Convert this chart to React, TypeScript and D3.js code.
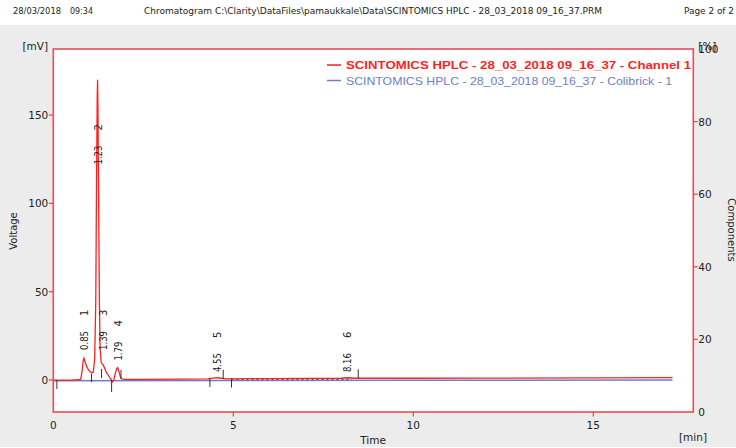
import React from "react";
import * as d3 from "d3";

const headerDate = "28/03/2018";
const headerTime = "09:34";
const headerTitle = "Chromatogram C:\\Clarity\\DataFiles\\pamaukkale\\Data\\SCINTOMICS HPLC - 28_03_2018 09_16_37.PRM";
const headerPage = "Page 2 of 2";
const legendRed = "SCINTOMICS HPLC - 28_03_2018 09_16_37 -  Channel 1";
const legendBlue = "SCINTOMICS HPLC - 28_03_2018 09_16_37 - Colibrick - 1";

const leftTicks = [0, 50, 100, 150];
const rightTicks = [0, 20, 40, 60, 80, 100];
const xTicks = [0, 5, 10, 15];

const redTimes = [0, 0.1, 0.5, 0.76, 0.8, 0.83, 0.85, 0.88, 0.92, 0.97, 1.02, 1.07, 1.11, 1.15, 1.18, 1.2, 1.22, 1.23, 1.24, 1.26, 1.28, 1.3, 1.33, 1.36, 1.39, 1.42, 1.46, 1.5, 1.55, 1.6, 1.64, 1.68, 1.72, 1.76, 1.79, 1.82, 1.86, 1.9, 2.0, 2.5, 3.5, 4.3, 4.55, 4.8, 6, 8.0, 8.16, 8.4, 10, 12, 15, 17.2];
const redValues = [0, 0, 0, 0.3, 5, 11, 12.4, 10.5, 8, 6, 4.8, 4, 4.5, 12, 45, 110, 160, 170, 155, 100, 45, 18, 10, 9, 8.5, 7, 5, 3.5, 2, 0.5, -1, 0, 3.5, 6.5, 7, 5, 2, 0.6, 0.4, 0.4, 0.5, 0.6, 1.3, 0.7, 0.8, 1.0, 1.3, 1.0, 1.0, 1.1, 1.2, 1.4];
const blueTimes = [0, 5, 10, 17.2];
const blueValues = [0, 0.2, 0.3, 0.4];

const peakTimes = [0.85, 1.23, 1.39, 1.79, 4.55, 8.16];
const peakNames = ["1", "2", "3", "4", "5", "6"];
const peakLabelLevels = [17, 122, 17, 11, 4.5, 4.5];

const boundaryTimes = [0.1, 1.06, 1.34, 1.62, 1.88, 4.35, 4.72, 4.95, 8.47];
const boundaryKinds = ["down", "mid", "up", "longdown", "up", "down", "up", "down", "up"];
const baselineSegments = [[0.1, 1.9, 0], [4.95, 8.3, 0.6]];

const FRAME = "#ee4a55";
const RED = "#ff1f1f";
const BLUE = "#6c7fc4";
const TXT = "#222";

export default function App() {
  const L = 53.3, R = 693.3, T = 49, B = 412;
  const x = d3.scaleLinear().domain([0, (R - L) / 36]).range([L, R]);
  const y = d3.scaleLinear().domain([-18.1, 187.4]).range([B, T]);
  const yr = d3.scaleLinear().domain([0, 100]).range([B, T]);

  const redLine = d3.line<number>().x((_, i) => x(redTimes[i])).y((d) => y(d));
  const blueLine = d3.line<number>().x((_, i) => x(blueTimes[i])).y((d) => y(d));

  const axisFont = "'DejaVu Sans', Verdana, sans-serif";

  return (
    <svg width={736} height={448} style={{ position: "absolute", left: 0, top: 0 }} fontFamily={axisFont}>
      <rect x={0} y={0} width={736} height={448} fill="#fff" />
      <rect x={0} y={25} width={736} height={422} fill="#ececec" />
      {/* header */}
      <g fontSize={9} fill={TXT}>
        <text x={13} y={13.5} textLength={48} lengthAdjust="spacingAndGlyphs">{headerDate}</text>
        <text x={70} y={13.5} textLength={23} lengthAdjust="spacingAndGlyphs">{headerTime}</text>
        <text x={144} y={13.5} textLength={458} lengthAdjust="spacingAndGlyphs">{headerTitle}</text>
        <text x={684} y={13.5} textLength={50} lengthAdjust="spacingAndGlyphs">{headerPage}</text>
      </g>
      {/* plot background */}
      <rect x={L} y={T} width={R - L} height={B - T} fill="#fff" />
      <defs>
        <clipPath id="plotclip">
          <rect x={L} y={T} width={R - L} height={B - T} />
        </clipPath>
      </defs>
      <g clipPath="url(#plotclip)">
        {/* baselines */}
        {baselineSegments.map((s, i) => (
          <line key={"bs" + i} x1={x(s[0])} x2={x(s[1])} y1={y(s[2]) + 0.5} y2={y(s[2]) + 0.5} stroke="#333" strokeWidth={1} strokeDasharray="2,3" />
        ))}
        <path d={blueLine(blueValues) || ""} fill="none" stroke={BLUE} strokeWidth={1.5} transform="translate(0,0.8)" />
        <path d={redLine(redValues) || ""} fill="none" stroke={RED} strokeWidth={1.3} />
        {/* boundary markers */}
        {boundaryTimes.map((t, i) => {
          const xx = x(t);
          const tv = redValues[d3.bisectLeft(redTimes, t)] ?? 0;
          const y0 = y(Math.max(0, Math.min(tv, 1.2)));
          const k = boundaryKinds[i];
          let y1 = y0, y2 = y0;
          if (k === "down") { y1 = y0; y2 = y0 + 9; }
          else if (k === "longdown") { y1 = y0; y2 = y0 + 12; }
          else if (k === "up") { y1 = y0 - 9; y2 = y0; }
          else { y1 = y0 - 4; y2 = y0 + 4; }
          return <line key={"bm" + i} x1={xx} x2={xx} y1={y1} y2={y2} stroke="#333" strokeWidth={1} />;
        })}
        {/* peak labels */}
        {peakTimes.map((t, i) => {
          const px = x(t) + 4;
          const py = y(peakLabelLevels[i]);
          return (
            <g key={"pl" + i} fontSize={10} fill={TXT}>
              <text transform={`translate(${px},${py}) rotate(-90)`} textLength={19} lengthAdjust="spacingAndGlyphs">{t.toFixed(2)}</text>
              <text transform={`translate(${px},${py - 34}) rotate(-90)`}>{peakNames[i]}</text>
            </g>
          );
        })}
        {/* legend */}
        <line x1={327} x2={341} y1={65} y2={65} stroke={RED} strokeWidth={1.3} />
        <text x={346} y={69} fontFamily="'Liberation Sans', Arial, sans-serif" fontWeight="bold" fontSize={11} fill={RED} textLength={345} lengthAdjust="spacingAndGlyphs">{legendRed}</text>
        <line x1={327} x2={341} y1={80.5} y2={80.5} stroke={BLUE} strokeWidth={1.3} />
        <text x={346} y={84.5} fontFamily="'Liberation Sans', Arial, sans-serif" fontSize={11} fill={BLUE} textLength={326} lengthAdjust="spacingAndGlyphs">{legendBlue}</text>
      </g>
      {/* frame */}
      <rect x={L} y={T} width={R - L} height={B - T} fill="none" stroke={FRAME} strokeWidth={1.6} />
      {/* left axis */}
      <g fontSize={10.5} fill={TXT}>
        {leftTicks.map((v) => (
          <g key={"lt" + v}>
            <line x1={L - 4.5} x2={L} y1={y(v)} y2={y(v)} stroke={FRAME} strokeWidth={1.3} />
            <text x={L - 5} y={y(v)} textAnchor="end" dominantBaseline="central">{v}</text>
          </g>
        ))}
        <text x={48} y={46} textAnchor="end" dominantBaseline="central">[mV]</text>
        <text transform={`translate(17,231) rotate(-90)`} textAnchor="middle" fontSize={10}>Voltage</text>
        {/* right axis */}
        {rightTicks.map((v) => (
          <g key={"rt" + v}>
            {v > 0 && v < 100 && <line x1={R} x2={R + 4.5} y1={yr(v)} y2={yr(v)} stroke={FRAME} strokeWidth={1.3} />}
            <text x={R + 5} y={yr(v)} dominantBaseline="central">{v}</text>
          </g>
        ))}
        <text x={R + 5} y={45.5} dominantBaseline="central">[%]</text>
        <text transform={`translate(728,230) rotate(90)`} textAnchor="middle" fontSize={10}>Components</text>
        {/* bottom axis */}
        {xTicks.map((v) => (
          <g key={"xt" + v}>
            {v > 0 && <line x1={x(v)} x2={x(v)} y1={B} y2={B + 4.5} stroke={FRAME} strokeWidth={1.3} />}
            <text x={x(v)} y={425} textAnchor="middle" dominantBaseline="central">{v}</text>
          </g>
        ))}
        <text x={373} y={440} textAnchor="middle" dominantBaseline="central">Time</text>
        <text x={693} y={437} textAnchor="middle" dominantBaseline="central">[min]</text>
      </g>
    </svg>
  );
}
